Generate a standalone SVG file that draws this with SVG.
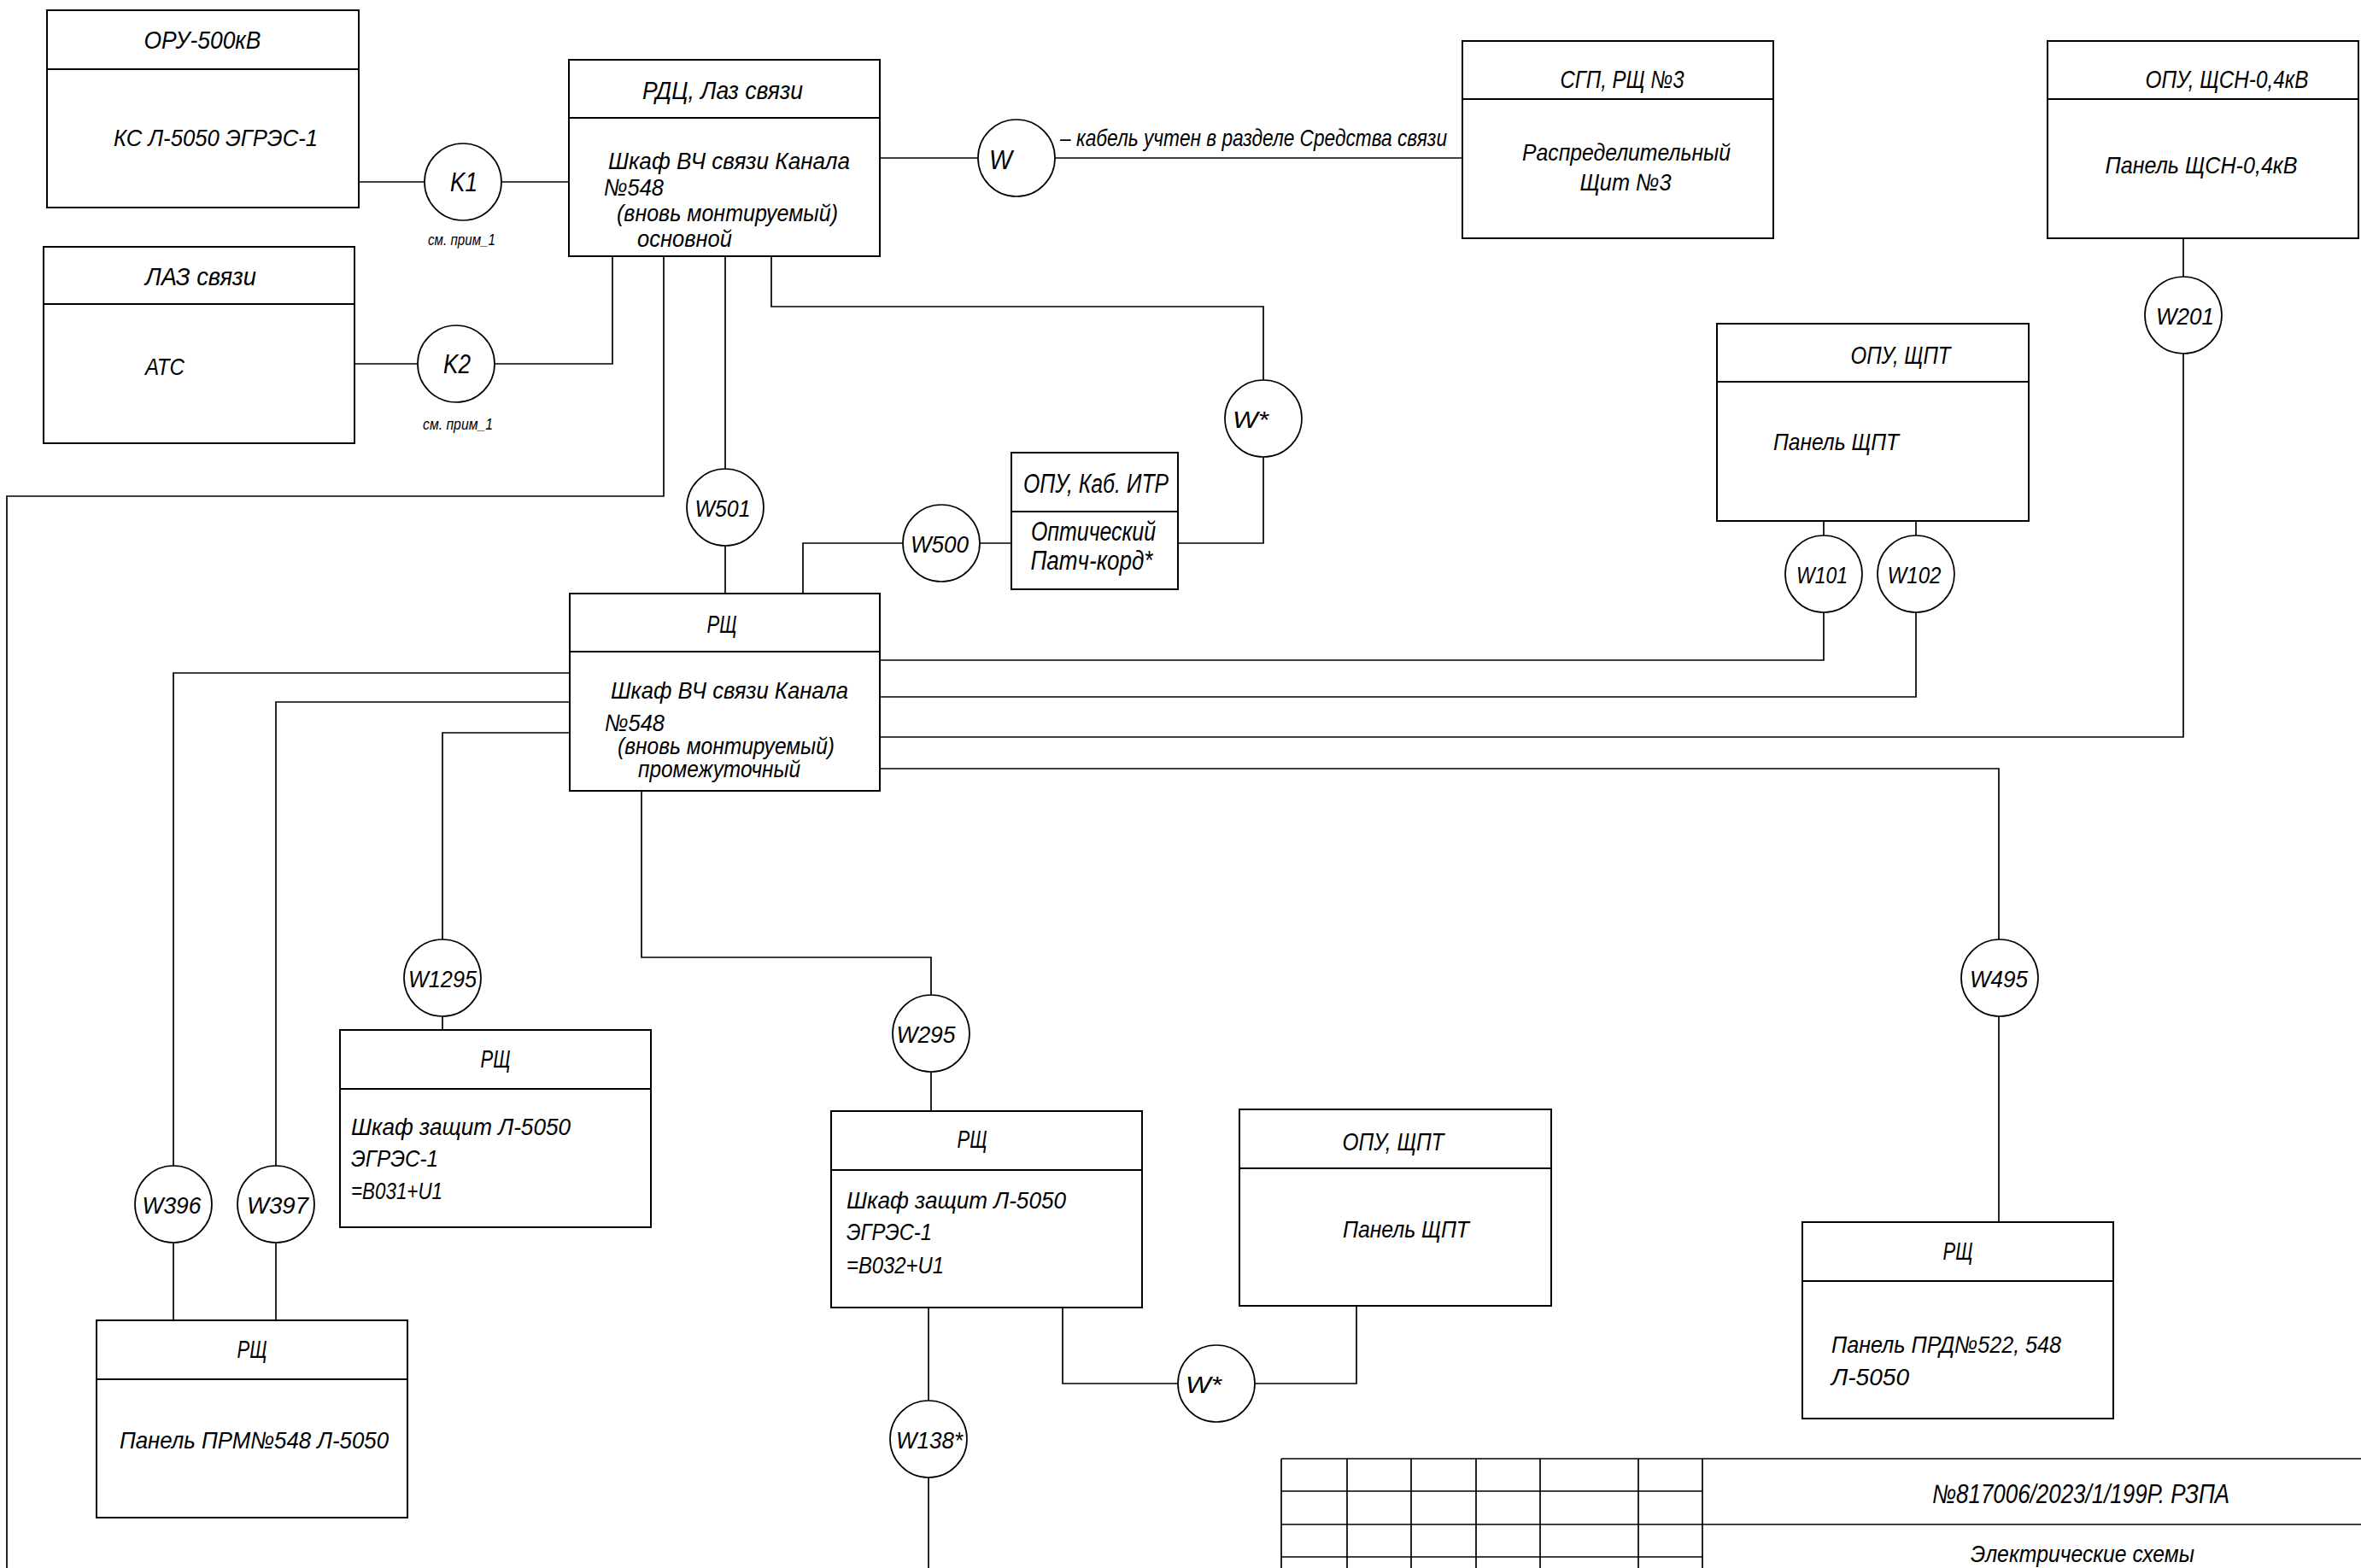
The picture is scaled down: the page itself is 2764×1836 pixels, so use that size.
<svg xmlns="http://www.w3.org/2000/svg" width="2764" height="1836" viewBox="0 0 2764 1836">
<style>
.box{fill:none;stroke:#000;stroke-width:2}
.ln{fill:none;stroke:#000;stroke-width:1.7}
.c{fill:#fff;stroke:#000;stroke-width:1.7}
text{font-family:"Liberation Sans","DejaVu Sans",sans-serif;font-style:italic;fill:#000}
.t{font-size:29px;text-anchor:middle}
.b{font-size:28px}
.bm{font-size:28px;text-anchor:middle}
.k{font-size:31px;text-anchor:middle}
.w{font-size:28px;text-anchor:middle}
.s{font-size:19px}
</style>
<rect width="2764" height="1836" fill="#fff"/>
<g id="connectors" class="ln">
<path d="M420,213H497M587,213H666"/>
<path d="M415,426H489M579,426H717V300"/>
<path d="M1030,185H1145M1235,185H1712"/>
<path d="M777,300V581H8V1836"/>
<path d="M849,300V549M849,639V695"/>
<path d="M903,300V359H1479V445M1479,535V636H1379"/>
<path d="M940,695V636H1057M1147,636H1184"/>
<path d="M1030,773H2135V717M2135,627V610"/>
<path d="M1030,816H2243V717M2243,627V610"/>
<path d="M1030,863H2556V414M2556,324V279"/>
<path d="M1030,900H2340V1100M2340,1190V1431"/>
<path d="M667,788H203V1365M203,1455V1546"/>
<path d="M667,822H323V1365M323,1455V1546"/>
<path d="M667,858H518V1100M518,1190V1206"/>
<path d="M751,926V1121H1090V1165M1090,1255V1301"/>
<path d="M1087,1531V1640M1087,1730V1836"/>
<path d="M1244,1531V1620H1379M1469,1620H1588V1529"/>
</g>
<g id="oru">
<rect class="box" x="55" y="12" width="365" height="231"/>
<line class="box" x1="55" y1="81" x2="420" y2="81"/>
<text class="t" x="237" y="57" textLength="137" lengthAdjust="spacingAndGlyphs">ОРУ-500кВ</text>
<text class="b" x="133" y="171" textLength="239" lengthAdjust="spacingAndGlyphs">КС Л-5050 ЭГРЭС-1</text>
</g>
<g id="laz">
<rect class="box" x="51" y="289" width="364" height="230"/>
<line class="box" x1="51" y1="356" x2="415" y2="356"/>
<text class="t" x="235" y="334" textLength="130" lengthAdjust="spacingAndGlyphs">ЛАЗ связи</text>
<text class="b" x="170" y="439" textLength="46" lengthAdjust="spacingAndGlyphs">АТС</text>
</g>
<g id="rdc">
<rect class="box" x="666" y="70" width="364" height="230"/>
<line class="box" x1="666" y1="138" x2="1030" y2="138"/>
<text class="t" x="846" y="116" textLength="188" lengthAdjust="spacingAndGlyphs">РДЦ, Лаз связи</text>
<text class="b" x="712" y="198" textLength="283" lengthAdjust="spacingAndGlyphs">Шкаф ВЧ связи Канала</text>
<text class="b" x="707" y="229" textLength="70" lengthAdjust="spacingAndGlyphs">№548</text>
<text class="b" x="722" y="259" textLength="259" lengthAdjust="spacingAndGlyphs">(вновь монтируемый)</text>
<text class="b" x="746" y="289" textLength="111" lengthAdjust="spacingAndGlyphs">основной</text>
</g>
<g id="sgp">
<rect class="box" x="1712" y="48" width="364" height="231"/>
<line class="box" x1="1712" y1="116" x2="2076" y2="116"/>
<text class="t" x="1899" y="103" textLength="145" lengthAdjust="spacingAndGlyphs">СГП, РЩ №3</text>
<text class="bm" x="1904" y="188" textLength="244" lengthAdjust="spacingAndGlyphs">Распределительный</text>
<text class="bm" x="1903" y="223" textLength="107" lengthAdjust="spacingAndGlyphs">Щит №3</text>
</g>
<g id="opu-schsn">
<rect class="box" x="2397" y="48" width="364" height="231"/>
<line class="box" x1="2397" y1="116" x2="2761" y2="116"/>
<text class="t" x="2607" y="103" textLength="191" lengthAdjust="spacingAndGlyphs">ОПУ, ЩСН-0,4кВ</text>
<text class="bm" x="2577" y="203" textLength="225" lengthAdjust="spacingAndGlyphs">Панель ЩСН-0,4кВ</text>
</g>
<g id="opu-shpt-1">
<rect class="box" x="2010" y="379" width="365" height="231"/>
<line class="box" x1="2010" y1="447" x2="2375" y2="447"/>
<text class="t" x="2225" y="426" textLength="117" lengthAdjust="spacingAndGlyphs">ОПУ, ЩПТ</text>
<text class="b" x="2076" y="527" textLength="147" lengthAdjust="spacingAndGlyphs">Панель ЩПТ</text>
</g>
<g id="opu-itr">
<rect class="box" x="1184" y="530" width="195" height="160"/>
<line class="box" x1="1184" y1="599" x2="1379" y2="599"/>
<text class="k" x="1283" y="577" textLength="170" lengthAdjust="spacingAndGlyphs">ОПУ, Каб. ИТР</text>
<text class="k" x="1280" y="633" textLength="146" lengthAdjust="spacingAndGlyphs">Оптический</text>
<text class="k" x="1278" y="667" textLength="143" lengthAdjust="spacingAndGlyphs">Патч-корд*</text>
</g>
<g id="rsch-mid">
<rect class="box" x="667" y="695" width="363" height="231"/>
<line class="box" x1="667" y1="763" x2="1030" y2="763"/>
<text class="t" x="845" y="741" textLength="35" lengthAdjust="spacingAndGlyphs">РЩ</text>
<text class="b" x="715" y="818" textLength="278" lengthAdjust="spacingAndGlyphs">Шкаф ВЧ связи Канала</text>
<text class="b" x="708" y="856" textLength="70" lengthAdjust="spacingAndGlyphs">№548</text>
<text class="b" x="723" y="883" textLength="254" lengthAdjust="spacingAndGlyphs">(вновь монтируемый)</text>
<text class="b" x="747" y="910" textLength="190" lengthAdjust="spacingAndGlyphs">промежуточный</text>
</g>
<g id="rsch-b031">
<rect class="box" x="398" y="1206" width="364" height="231"/>
<line class="box" x1="398" y1="1275" x2="762" y2="1275"/>
<text class="t" x="580" y="1250" textLength="35" lengthAdjust="spacingAndGlyphs">РЩ</text>
<text class="b" x="411" y="1329" textLength="257" lengthAdjust="spacingAndGlyphs">Шкаф защит Л-5050</text>
<text class="b" x="411" y="1366" textLength="102" lengthAdjust="spacingAndGlyphs">ЭГРЭС-1</text>
<text class="b" x="411" y="1404" textLength="107" lengthAdjust="spacingAndGlyphs">=В031+U1</text>
</g>
<g id="rsch-prm">
<rect class="box" x="113" y="1546" width="364" height="231"/>
<line class="box" x1="113" y1="1615" x2="477" y2="1615"/>
<text class="t" x="295" y="1590" textLength="35" lengthAdjust="spacingAndGlyphs">РЩ</text>
<text class="b" x="140" y="1696" textLength="315" lengthAdjust="spacingAndGlyphs">Панель ПРМ№548 Л-5050</text>
</g>
<g id="rsch-b032">
<rect class="box" x="973" y="1301" width="364" height="230"/>
<line class="box" x1="973" y1="1370" x2="1337" y2="1370"/>
<text class="t" x="1138" y="1344" textLength="35" lengthAdjust="spacingAndGlyphs">РЩ</text>
<text class="b" x="991" y="1415" textLength="257" lengthAdjust="spacingAndGlyphs">Шкаф защит Л-5050</text>
<text class="b" x="991" y="1452" textLength="100" lengthAdjust="spacingAndGlyphs">ЭГРЭС-1</text>
<text class="b" x="991" y="1491" textLength="114" lengthAdjust="spacingAndGlyphs">=В032+U1</text>
</g>
<g id="opu-shpt-2">
<rect class="box" x="1451" y="1299" width="365" height="230"/>
<line class="box" x1="1451" y1="1368" x2="1816" y2="1368"/>
<text class="t" x="1631" y="1347" textLength="119" lengthAdjust="spacingAndGlyphs">ОПУ, ЩПТ</text>
<text class="bm" x="1646" y="1449" textLength="148" lengthAdjust="spacingAndGlyphs">Панель ЩПТ</text>
</g>
<g id="rsch-prd">
<rect class="box" x="2110" y="1431" width="364" height="230"/>
<line class="box" x1="2110" y1="1500" x2="2474" y2="1500"/>
<text class="t" x="2292" y="1475" textLength="35" lengthAdjust="spacingAndGlyphs">РЩ</text>
<text class="b" x="2144" y="1584" textLength="269" lengthAdjust="spacingAndGlyphs">Панель ПРД№522, 548</text>
<text class="b" x="2144" y="1622" textLength="91" lengthAdjust="spacingAndGlyphs">Л-5050</text>
</g>
<g id="k1">
<circle class="c" cx="542" cy="213" r="45"/>
<text class="k" x="543" y="224" textLength="32" lengthAdjust="spacingAndGlyphs">K1</text>
<text class="s" x="501" y="287" textLength="79" lengthAdjust="spacingAndGlyphs">см. прим_1</text>
</g>
<g id="k2">
<circle class="c" cx="534" cy="426" r="45"/>
<text class="k" x="535" y="437" textLength="32" lengthAdjust="spacingAndGlyphs">K2</text>
<text class="s" x="495" y="503" textLength="82" lengthAdjust="spacingAndGlyphs">см. прим_1</text>
</g>
<g id="w">
<circle class="c" cx="1190" cy="185" r="45"/>
<text x="1158" y="198" font-size="31" textLength="27" lengthAdjust="spacingAndGlyphs">W</text>
<text class="b" x="1241" y="171" textLength="453" lengthAdjust="spacingAndGlyphs">– кабель учтен в разделе Средства связи</text>
</g>
<g id="w501"><circle class="c" cx="849" cy="594" r="45"/><text class="w" x="846" y="605" textLength="65" lengthAdjust="spacingAndGlyphs">W501</text></g>
<g id="w500"><circle class="c" cx="1102" cy="636" r="45"/><text class="w" x="1100" y="647" textLength="68" lengthAdjust="spacingAndGlyphs">W500</text></g>
<g id="wstar-1"><circle class="c" cx="1479" cy="490" r="45"/><text class="w" x="1464" y="501" textLength="42" lengthAdjust="spacingAndGlyphs">W*</text></g>
<g id="w201"><circle class="c" cx="2556" cy="369" r="45"/><text class="w" x="2558" y="380" textLength="68" lengthAdjust="spacingAndGlyphs">W201</text></g>
<g id="w101"><circle class="c" cx="2135" cy="672" r="45"/><text class="w" x="2133" y="683" textLength="60" lengthAdjust="spacingAndGlyphs">W101</text></g>
<g id="w102"><circle class="c" cx="2243" cy="672" r="45"/><text class="w" x="2241" y="683" textLength="63" lengthAdjust="spacingAndGlyphs">W102</text></g>
<g id="w1295"><circle class="c" cx="518" cy="1145" r="45"/><text class="w" x="518" y="1156" textLength="80" lengthAdjust="spacingAndGlyphs">W1295</text></g>
<g id="w295"><circle class="c" cx="1090" cy="1210" r="45"/><text class="w" x="1084" y="1221" textLength="69" lengthAdjust="spacingAndGlyphs">W295</text></g>
<g id="w396"><circle class="c" cx="203" cy="1410" r="45"/><text class="w" x="201" y="1421" textLength="69" lengthAdjust="spacingAndGlyphs">W396</text></g>
<g id="w397"><circle class="c" cx="323" cy="1410" r="45"/><text class="w" x="325" y="1421" textLength="72" lengthAdjust="spacingAndGlyphs">W397</text></g>
<g id="w138"><circle class="c" cx="1087" cy="1685" r="45"/><text class="w" x="1088" y="1696" textLength="78" lengthAdjust="spacingAndGlyphs">W138*</text></g>
<g id="wstar-2"><circle class="c" cx="1424" cy="1620" r="45"/><text class="w" x="1409" y="1631" textLength="42" lengthAdjust="spacingAndGlyphs">W*</text></g>
<g id="w495"><circle class="c" cx="2341" cy="1145" r="45"/><text class="w" x="2340" y="1156" textLength="68" lengthAdjust="spacingAndGlyphs">W495</text></g>
<g id="title-block" class="ln">
<path d="M1500,1708H2764M1500,1785H2764M1500,1746H1993M1500,1823H1993"/>
<path d="M1500,1708V1836M1577,1708V1836M1652,1708V1836M1728,1708V1836M1803,1708V1836M1918,1708V1836M1993,1708V1836"/>
<text x="2436" y="1760" font-size="31" text-anchor="middle" stroke="none" textLength="348" lengthAdjust="spacingAndGlyphs">№817006/2023/1/199Р. РЗПА</text>
<text x="2438" y="1829" font-size="28" text-anchor="middle" stroke="none" textLength="262" lengthAdjust="spacingAndGlyphs">Электрические схемы</text>
</g>
</svg>
